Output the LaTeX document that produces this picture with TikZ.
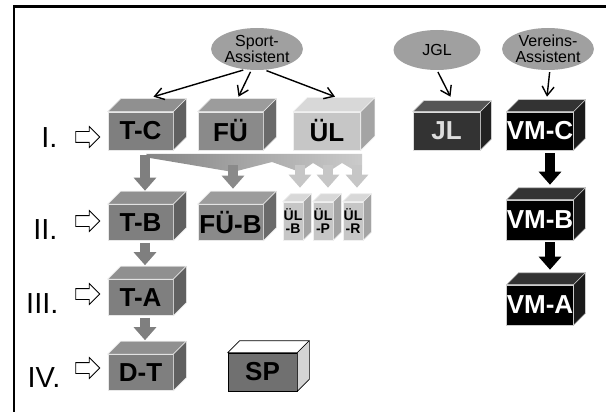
\documentclass[tikz,border=0pt]{standalone}
\usepackage{fontspec}
\setmainfont{Liberation Sans}
\usepackage{tikz}
\usetikzlibrary{arrows.meta, shapes.geometric, shapes.arrows}

\definecolor{tFront}{HTML}{7F7F7F}
\definecolor{tTop}{HTML}{909090}
\definecolor{tSide}{HTML}{606060}
\definecolor{tLine}{HTML}{E8E8E8}
\definecolor{fuFront}{HTML}{8A8A8A}
\definecolor{fuTop}{HTML}{9C9C9C}
\definecolor{fuSide}{HTML}{6A6A6A}
\definecolor{fuLine}{HTML}{E8E8E8}
\definecolor{ulFront}{HTML}{C6C6C6}
\definecolor{ulTop}{HTML}{D8D8D8}
\definecolor{ulSide}{HTML}{A4A4A4}
\definecolor{ulLine}{HTML}{F0F0F0}
\definecolor{jlFront}{HTML}{333333}
\definecolor{jlTop}{HTML}{555555}
\definecolor{jlSide}{HTML}{222222}
\definecolor{jlLine}{HTML}{DDDDDD}
\definecolor{vmFront}{HTML}{000000}
\definecolor{vmTop}{HTML}{333333}
\definecolor{vmSide}{HTML}{1A1A1A}
\definecolor{vmLine}{HTML}{CCCCCC}
\definecolor{spFront}{HTML}{707070}
\definecolor{spTop}{HTML}{FFFFFF}
\definecolor{spSide}{HTML}{D4D4D4}
\definecolor{spLine}{HTML}{000000}
\definecolor{ellGray}{HTML}{A0A0A0}
\definecolor{bandL}{HTML}{858585}
\definecolor{bandR}{HTML}{CBCBCB}

% #1 depth, #2 colour family, #3 name, #4 position, #5 text, #6 extra options
\newcommand{\quader}[6][13]{%
  \node[quaderfront, fill=#2Front, draw=#2Line, #6] (#3) at (#4) {#5};
  \filldraw[fill=#2Top, draw=#2Line, line width=0.6pt, line join=round]
    (#3.north west) -- ([shift={(#1,-#1)}]#3.north west)
    -- ([shift={(#1,-#1)}]#3.north east) -- (#3.north east) -- cycle;
  \filldraw[fill=#2Side, draw=#2Line, line width=0.6pt, line join=round]
    (#3.north east) -- ([shift={(#1,-#1)}]#3.north east)
    -- ([shift={(#1,-#1)}]#3.south east) -- (#3.south east) -- cycle;
}

\tikzset{
  quaderfront/.style={
    rectangle, inner sep=0pt, line width=0.6pt,
    minimum width=65pt, minimum height=38pt, align=center,
    font=\fontsize{26}{28}\selectfont\bfseries
  },
  klein/.style={minimum width=20pt, font=\fontsize{14}{13}\selectfont\bfseries},
  rolle/.style={
    ellipse, fill=ellGray, inner sep=0pt, align=center,
    minimum width=86pt, minimum height=42pt,
    font=\fontsize{16}{16}\selectfont
  },
  stufe/.style={anchor=base east, font=\fontsize{29}{29}\selectfont},
  hinweis/.style={
    single arrow, draw, fill=white, line width=0.8pt, inner sep=5pt,
    minimum height=24pt, single arrow head extend=5pt
  },
  zuweisung/.style={-{Straight Barb[length=9pt,width=12pt]}, line width=1.4pt},
  aufstieg/.style={draw=#1, line width=10pt, -{Triangle[length=13pt,width=22pt]}}
}

\begin{document}
\begin{tikzpicture}[x=1pt, y=-1pt]
  \useasboundingbox (0,0) rectangle (606,412);

  % Rahmen
  \draw[line width=2.6pt] (14,412) -- (14,6.5) -- (606,6.5);

  % Rollen
  \node[rolle] (sport) at (257,49) {Sport-\\Assistent};
  \node[rolle, minimum width=87pt, minimum height=40pt] (jgl) at (437,50) {JGL};
  \node[rolle, minimum width=83pt] (verein) at (548,49) {Vereins-\\Assistent};

  % Stufen
  \node[stufe] (s1) at (61,148) {I.};
  \node[stufe] (s2) at (61,239) {II.};
  \node[stufe] (s3) at (62,313) {III.};
  \node[stufe] (s4) at (64,387) {IV.};
  \node[hinweis] (h1) at (85,137) {};
  \node[hinweis] (h2) at (85,221) {};
  \node[hinweis] (h3) at (85,294) {};
  \node[hinweis] (h4) at (85,368) {};

  % Quader
  \quader{t}{tc}{140.5,131}{T-C}{}
  \quader{fu}{fu}{230.5,131}{FÜ}{}
  \quader[14]{ul}{ul}{327,131}{ÜL}{minimum width=67pt}
  \quader[11]{jl}{jl}{446.5,131}{JL}{text=jlLine, minimum width=67pt}
  \quader[12]{vm}{vmc}{540,131}{VM-C}{text=white}
  \quader{t}{tb}{140.5,222.5}{T-B}{minimum height=36pt}
  \quader{fu}{fub}{230.5,222.5}{FÜ-B}{minimum height=36pt}
  \quader[8]{ul}{ulb}{293,221}{ÜL\\-B}{klein}
  \quader[8]{ul}{ulp}{323,221}{ÜL\\-P}{klein}
  \quader[8]{ul}{ulr}{353,221}{ÜL\\-R}{klein}
  \quader[12]{vm}{vmb}{540,220}{VM-B}{text=white, minimum height=40pt}
  \quader{t}{ta}{140.5,297.5}{T-A}{minimum height=36pt}
  \quader[12]{vm}{vma}{540,305}{VM-A}{text=white, minimum height=40pt}
  \quader{t}{dt}{140.5,372.5}{D-T}{minimum height=36pt}
  \quader[12]{sp}{sp}{262.5,372}{SP}{minimum width=69pt}

  % Zuweisungen
  \draw[zuweisung, shorten <=2pt] (sport.240) -- ([shift={(13,-15)}]tc.north);
  \draw[zuweisung, shorten <=2pt] (sport.255) -- ([shift={(8,-15)}]fu.north);
  \draw[zuweisung, shorten <=2pt] (sport.290) -- ([shift={(8,-15)}]ul.north);
  \draw[zuweisung, shorten <=2pt] (jgl.south) -- ([shift={(4,-15)}]jl.north);
  \draw[zuweisung, shorten <=2pt] (verein.275) -- ([shift={(7,-15)}]vmc.north);

  % Facher unter Stufe I
  \shade[left color=bandL, right color=bandR]
    (146,154) -- (362,154) -- (362,170) -- (357,172) -- (342,163)
    -- (328,172) -- (313,163) -- (300,172) -- (272,162) -- (233,172)
    -- (150,158) -- cycle;
  \coordinate (fanfu) at (233,165);
  \coordinate (fanb) at (300,165);
  \coordinate (fanp) at (328,165);
  \coordinate (fanr) at (357,165);
  \draw[aufstieg=fuFront, shorten >=15.5pt] (fanfu) -- (fanfu |- fub.north);
  \draw[aufstieg=ulFront, shorten >=14pt] (fanb) -- (fanb |- ulb.north);
  \draw[aufstieg=ulFront, shorten >=14pt] (fanp) -- (fanp |- ulp.north);
  \draw[aufstieg=ulFront, shorten >=14pt] (fanr) -- (fanr |- ulr.north);

  % Aufstieg
  \draw[aufstieg=tFront, shorten <=5pt, shorten >=13.5pt]
    ([xshift=4.5pt]tc.south) -- ([xshift=4.5pt]tb.north);
  \draw[aufstieg=tFront, shorten <=2pt, shorten >=14pt]
    ([xshift=4.5pt]tb.south) -- ([xshift=4.5pt]ta.north);
  \draw[aufstieg=tFront, shorten <=2pt, shorten >=14pt]
    ([xshift=4.5pt]ta.south) -- ([xshift=4.5pt]dt.north);
  \draw[aufstieg=black, shorten <=3pt, shorten >=15pt]
    ([xshift=10pt]vmc.south) -- ([xshift=10pt]vmb.north);
  \draw[aufstieg=black, shorten <=2pt, shorten >=15pt]
    ([xshift=10pt]vmb.south) -- ([xshift=10pt]vma.north);
\end{tikzpicture}
\end{document}
